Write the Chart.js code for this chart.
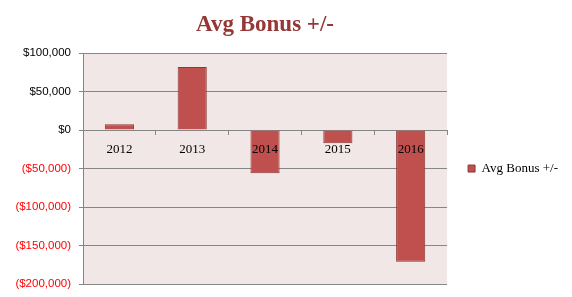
<!DOCTYPE html>
<html>
<head>
<meta charset="utf-8">
<script src="https://cdn.jsdelivr.net/npm/chart.js@4"></script>
<style>
  html, body { margin: 0; padding: 0; background: #fff; }
  #wrap { width: 572px; height: 297px; }
</style>
</head>
<body>
<div id="wrap"><canvas id="bonus-chart"></canvas></div>
<script>
"use strict";

// years on the x axis
const categories = ['2012', '2013', '2014', '2015', '2016'];
// avg bonus difference per year
const bonusValues = [7500, 82000, -56000, -17000, -171000];
// y axis range and step
const yMin = -200000;
const yMax = 100000;
const yStep = 50000;

// money format, negatives in brackets like excel
function money(v) {
  const s = '$' + Math.abs(v).toLocaleString('en-US');
  return v < 0 ? '(' + s + ')' : s;
}

// pink plot background
const plotBg = {
  id: 'plotBg',
  beforeDraw(chart) {
    const a = chart.chartArea;
    const ctx = chart.ctx;
    ctx.save();
    ctx.fillStyle = '#F2E7E7';
    ctx.fillRect(a.left, a.top, a.right - a.left, a.bottom - a.top);
    ctx.restore();
  }
};

const chart = new Chart(document.getElementById('bonus-chart'), {
  type: 'bar',
  data: {
    labels: categories,
    datasets: [{
      label: 'Avg Bonus +/-',
      data: bonusValues,
      backgroundColor: '#C0504D',
      borderColor: '#8C3836',
      borderWidth: 1,
      barPercentage: 0.4,
      categoryPercentage: 1
    }]
  },
  options: {
    responsive: true,
    maintainAspectRatio: false,
    animation: false,
    layout: { padding: { top: 2, left: 6, right: 4, bottom: 13 } },
    plugins: {
      title: {
        display: true,
        text: 'Avg Bonus +/-',
        fullSize: false,
        color: '#953735',
        font: { family: 'Liberation Serif', size: 23, weight: 'bold' },
        padding: { top: 9, bottom: 14.5 }
      },
      legend: {
        position: 'right',
        fullSize: false,
        labels: {
          boxWidth: 7,
          boxHeight: 7,
          color: '#000',
          font: { family: 'Liberation Serif', size: 13 },
          padding: 21
        }
      },
      tooltip: { enabled: false }
    },
    scales: {
      x: {
        position: { y: 0 },
        grid: {
          offset: true,
          drawOnChartArea: false,
          tickLength: 4,
          color: '#868686'
        },
        border: { color: '#868686' },
        ticks: {
          z: 1, // year labels sit on top of the bars
          color: '#000',
          padding: 8,
          font: { family: 'Liberation Serif', size: 13 }
        }
      },
      y: {
        min: yMin,
        max: yMax,
        afterFit(scale) {
          scale.width = 77;
          // let layout padding decide the plot edges, not the label overhang
          scale.paddingTop = 0;
          scale.paddingBottom = 0;
        },
        ticks: {
          stepSize: yStep,
          padding: 8,
          callback: v => money(v),
          color: ctx => ctx.tick.value < 0 ? '#FF0000' : '#000',
          font: { family: 'Liberation Sans', size: 11.5 }
        },
        grid: { color: '#868686', tickLength: 4 },
        border: { color: '#868686' }
      }
    }
  },
  plugins: [plotBg]
});
</script>
</body>
</html>
